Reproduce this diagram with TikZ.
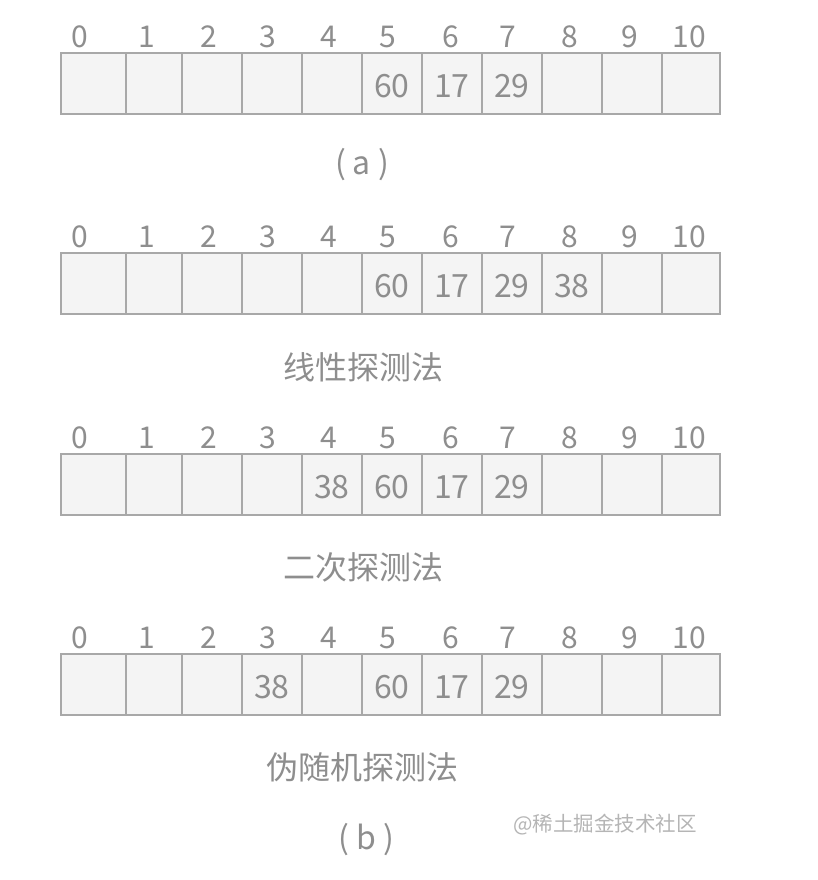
\documentclass[tikz,border=0pt]{standalone}
\usepackage{fontspec}
\setmainfont{Noto Sans CJK SC}
\definecolor{cellfill}{HTML}{F4F4F4}
\definecolor{cellline}{HTML}{A8A8A8}
\definecolor{txt}{HTML}{8E8E8E}
\definecolor{wm}{HTML}{B5B5B5}
\begin{document}
\begin{tikzpicture}[x=1pt,y=-1pt,
  cellbox/.style={draw=cellline,fill=cellfill,line width=1.6pt,rectangle,anchor=north west,inner sep=0pt,minimum height=61pt},
  idx/.style={text=txt,font=\fontsize{30}{30}\selectfont,inner sep=0pt},
  captxt/.style={text=txt,font=\fontsize{32}{34}\selectfont,inner sep=0pt},
  valtxt/.style={text=txt,font=\fontsize{32}{32}\selectfont,inner sep=0pt,yshift=-3pt},
  wmark/.style={text=wm,font=\fontsize{20.5}{21}\selectfont,inner sep=0pt}]
\useasboundingbox[fill=white] (0,0) rectangle (818,880);
\foreach \r/\top in {1/52, 2/252, 3/453, 4/653}{
  \foreach \c/\xa/\xb/\lx in {0/60/125/80,1/125/181/147,2/181/241/209,3/241/301/268,4/301/361/329,5/361/421/388,6/421/481/451,7/481/541/508,8/541/601/570,9/601/661/630,10/661/719/689}{
    \pgfmathsetmacro{\w}{\xb-\xa}
    \node[cellbox,minimum width=\w pt] (r\r c\c) at (\xa,\top) {};
    \node[idx] (i\r c\c) at (\lx,\top-15) {\c};
  }
}
% values
\node[valtxt] (v1a) at (r1c5) {60};
\node[valtxt] (v1b) at (r1c6) {17};
\node[valtxt] (v1c) at (r1c7) {29};
\node[valtxt] (v2a) at (r2c5) {60};
\node[valtxt] (v2b) at (r2c6) {17};
\node[valtxt] (v2c) at (r2c7) {29};
\node[valtxt] (v2d) at (r2c8) {38};
\node[valtxt] (v3d) at (r3c4) {38};
\node[valtxt] (v3a) at (r3c5) {60};
\node[valtxt] (v3b) at (r3c6) {17};
\node[valtxt] (v3c) at (r3c7) {29};
\node[valtxt] (v4d) at (r4c3) {38};
\node[valtxt] (v4a) at (r4c5) {60};
\node[valtxt] (v4b) at (r4c6) {17};
\node[valtxt] (v4c) at (r4c7) {29};
% captions
\node[captxt] (capa) at (362,165) {( a )};
\node[captxt] (cap1) at (363,367) {线性探测法};
\node[captxt] (cap2) at (363,567) {二次探测法};
\node[captxt] (cap3) at (362,767) {伪随机探测法};
\node[captxt] (capb) at (366,840) {( b )};
\node[wmark] (wm) at (605,825) {@稀土掘金技术社区};
\end{tikzpicture}
\end{document}
